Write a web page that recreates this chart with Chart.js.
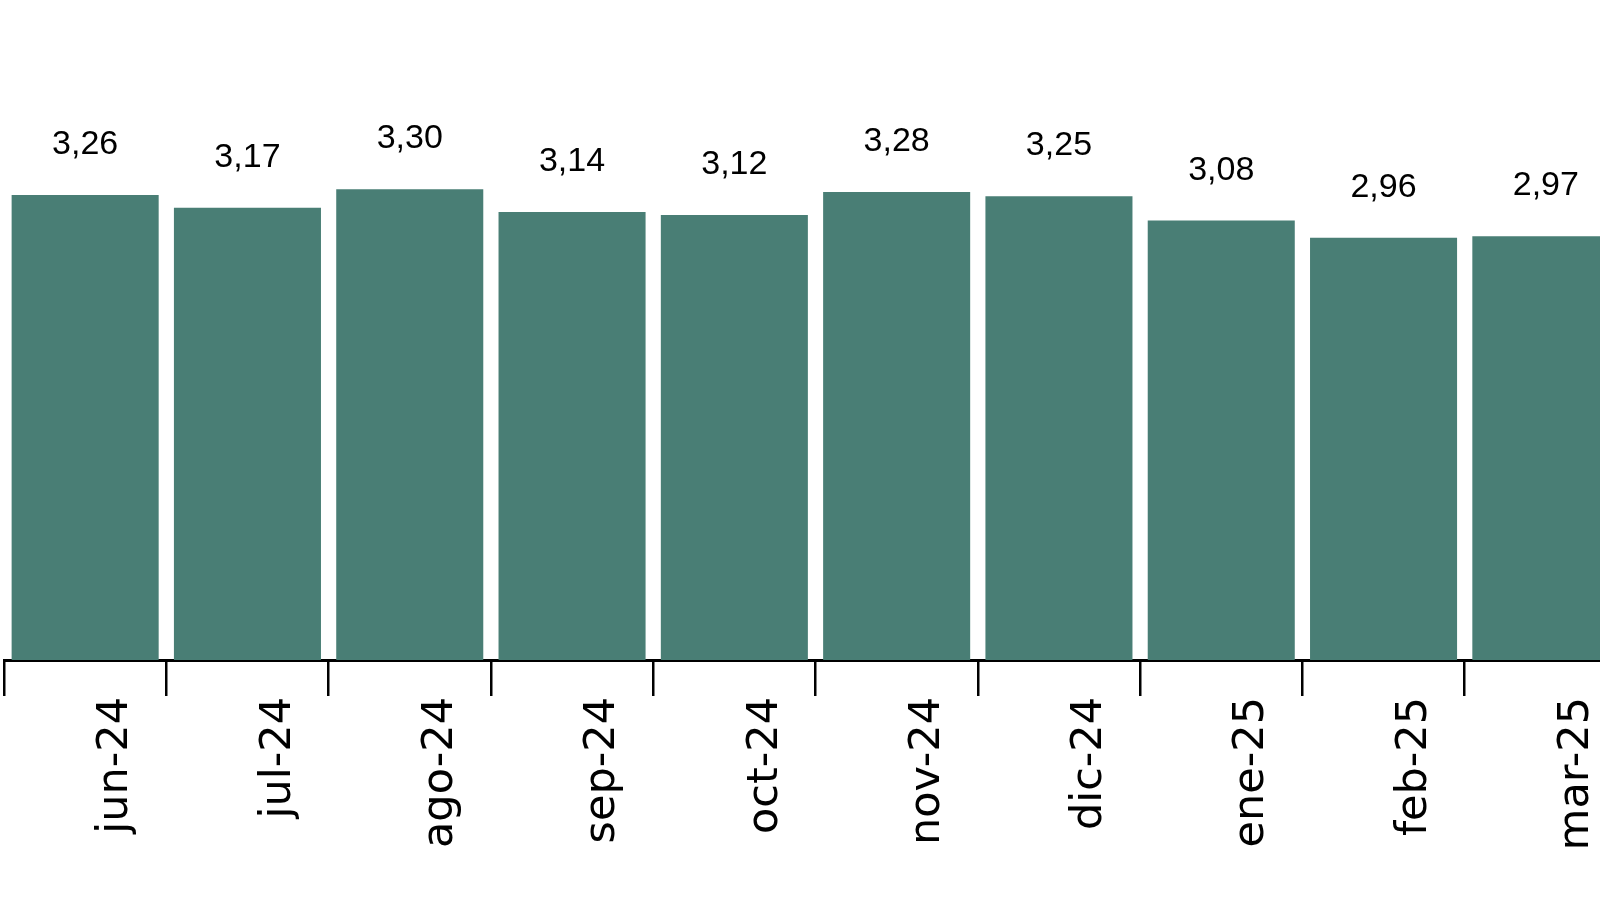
<!DOCTYPE html>
<html>
<head>
<meta charset="utf-8">
<script src="https://cdn.jsdelivr.net/npm/chart.js@4.4.1/dist/chart.umd.min.js"></script>
<style>
  html, body { margin: 0; padding: 0; background: #ffffff; overflow: hidden; width: 1600px; height: 900px; }
  #wrap { position: absolute; left: 0; top: 0; width: 1700px; height: 900px; }
</style>
</head>
<body>
<div id="wrap"><canvas id="c"></canvas></div>
<script>
const categories = ['jun-24', 'jul-24', 'ago-24', 'sep-24', 'oct-24', 'nov-24', 'dic-24', 'ene-25', 'feb-25', 'mar-25'];
const values = [3.26, 3.17, 3.30, 3.14, 3.12, 3.28, 3.25, 3.08, 2.96, 2.97];

const valueLabels = {
  id: 'valueLabels',
  afterDatasetsDraw(chart) {
    const ctx = chart.ctx;
    const meta = chart.getDatasetMeta(0);
    ctx.save();
    ctx.font = '34px "Liberation Sans", Arial, sans-serif';
    ctx.fillStyle = '#000000';
    ctx.textAlign = 'center';
    ctx.textBaseline = 'alphabetic';
    meta.data.forEach((bar, i) => {
      const txt = values[i].toFixed(2).replace('.', ',');
      ctx.fillText(txt, bar.x, bar.y - 41);
    });
    ctx.restore();
  }
};

new Chart(document.getElementById('c'), {
  type: 'bar',
  data: {
    labels: categories,
    datasets: [{
      data: values,
      backgroundColor: '#497e75',
      borderWidth: 0,
      barPercentage: 0.906,
      categoryPercentage: 1.0
    }]
  },
  options: {
    responsive: true,
    maintainAspectRatio: false,
    animation: false,
    devicePixelRatio: 1,
    layout: { padding: { left: 4, right: 73, top: 18, bottom: 0 } },
    plugins: { legend: { display: false }, tooltip: { enabled: false } },
    scales: {
      x: {
        offset: true,
        grid: {
          display: true,
          offset: true,
          drawOnChartArea: false,
          drawTicks: true,
          tickLength: 36,
          color: '#000000',
          lineWidth: 2.5
        },
        border: { display: true, color: '#000000', width: 3 },
        ticks: {
          autoSkip: false,
          minRotation: 90,
          maxRotation: 90,
          padding: 1,
          labelOffset: 31,
          color: '#000000',
          font: { family: '"DejaVu Sans", sans-serif', size: 43 }
        },
        afterFit(scale) { scale.height = 240; }
      },
      y: {
        display: false,
        min: 0,
        max: 4.5
      }
    }
  },
  plugins: [valueLabels]
});
</script>
</body>
</html>
